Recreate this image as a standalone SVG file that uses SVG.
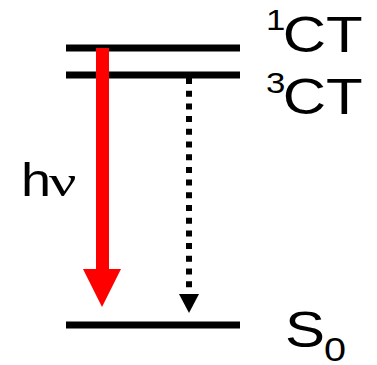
<svg xmlns="http://www.w3.org/2000/svg" width="377" height="365" viewBox="0 0 377 365">
  <style>
    .level { stroke: #000; stroke-width: 7; fill: none; }
    .lbl { font-family: "Liberation Sans", Arial, sans-serif; fill: #000; }
    .greek { font-family: "Liberation Serif", "Times New Roman", serif; fill: #000; }
  </style>
  <rect width="377" height="365" fill="#fff"/>
  <g id="level-1CT">
    <line class="level" x1="66" y1="48" x2="240" y2="48"/>
    <text class="lbl" transform="translate(266,52) scale(1.2,1)" x="0" y="0" font-size="50"><tspan font-size="29" dy="-22">1</tspan><tspan x="14" dy="22">CT</tspan></text>
  </g>
  <g id="level-3CT">
    <line class="level" x1="66" y1="75" x2="240" y2="75"/>
    <text class="lbl" transform="translate(266,114) scale(1.2,1)" x="0" y="0" font-size="50"><tspan font-size="29" dy="-21">3</tspan><tspan x="14" dy="21">CT</tspan></text>
  </g>
  <g id="level-S0">
    <line class="level" x1="66" y1="325" x2="240" y2="325"/>
    <text class="lbl" transform="translate(285,346.5) scale(1.2,1)" x="0" y="0" font-size="50">S<tspan x="32.5" dy="14" font-size="33">0</tspan></text>
  </g>
  <g id="connectors">
    <g id="emission">
      <rect x="96" y="48" width="13" height="222" fill="#ff0000"/>
      <polygon points="83,269 121,269 102,307" fill="#ff0000"/>
      <text class="lbl" transform="translate(21,196) scale(1.15,1)" x="0" y="0" font-size="47">h</text>
      <text class="greek" transform="translate(49,196) scale(1.35,1)" x="0" y="0" font-size="45">ν</text>
    </g>
    <g id="isc">
      <line x1="189" y1="78" x2="189" y2="294" stroke="#000" stroke-width="6" stroke-dasharray="6 6.7"/>
      <polygon points="179,294 199,294 189,313" fill="#000"/>
    </g>
  </g>
</svg>
